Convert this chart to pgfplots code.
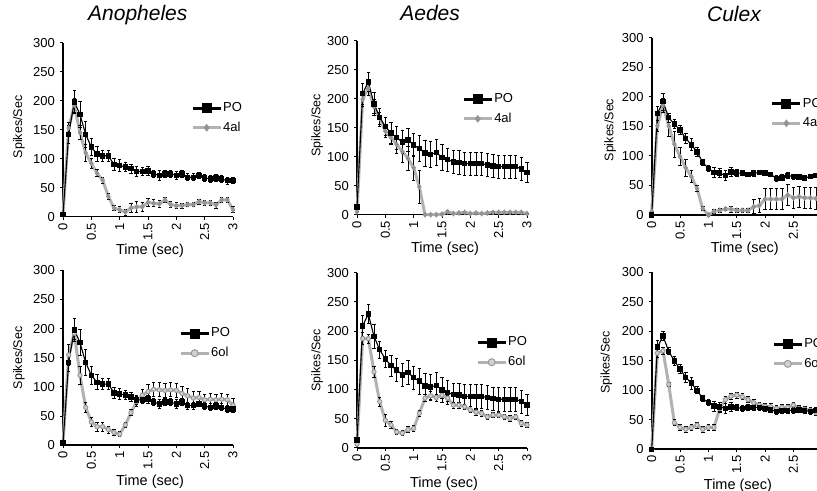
\documentclass[border=0pt]{standalone}
\usepackage{fontspec}
\setmainfont{Liberation Sans}
\usepackage{pgfplots}
\usepackage{pgfplotstable}
\pgfplotsset{compat=1.18}

\pgfplotstableread{
x y e
0 4 0
0.1 142 15
0.2 198 20
0.3 176 22
0.4 142 22
0.5 120 15
0.6 108 13
0.7 105 10
0.8 105 10
0.9 90 10
1.0 88 10
1.1 86 8
1.2 83 8
1.3 78 8
1.4 78 7
1.5 79 7
1.6 74 6
1.7 71 8
1.8 74 6
1.9 74 6
2.0 71 7
2.1 74 6
2.2 68 6
2.3 68 6
2.4 71 5
2.5 67 6
2.6 65 6
2.7 67 6
2.8 65 6
2.9 62 6
3.0 62 5
}\anoPO

\pgfplotstableread{
x y e
0 3 0
0.1 153 10
0.2 192 12
0.3 145 12
0.4 110 14
0.5 92 8
0.6 75 6
0.7 63 5
0.8 35 5
0.9 15 5
1.0 12 5
1.1 8 5
1.2 15 8
1.3 17 10
1.4 17 8
1.5 25 7
1.6 23 6
1.7 22 6
1.8 29 4
1.9 21 5
2.0 19 5
2.1 19 4
2.2 21 4
2.3 21 4
2.4 26 4
2.5 24 4
2.6 24 4
2.7 20 5
2.8 29 4
2.9 29 4
3.0 12 5
}\anoAL

\pgfplotstableread{
x y e
0 3 0
0.1 155 18
0.2 192 10
0.3 120 15
0.4 65 8
0.5 40 8
0.6 32 8
0.7 32 8
0.8 27 6
0.9 22 5
1.0 19 4
1.1 35 5
1.2 56 5
1.3 75 8
1.4 86 10
1.5 92 12
1.6 96 12
1.7 95 12
1.8 94 12
1.9 95 12
2.0 94 12
2.1 89 12
2.2 85 12
2.3 81 12
2.4 82 10
2.5 78 10
2.6 79 10
2.7 78 10
2.8 79 10
2.9 78 10
3.0 69 12
}\anoOL

\pgfplotstableread{
x y e
0 13 0
0.1 209 18
0.2 229 16
0.3 191 20
0.4 168 15
0.5 152 15
0.6 141 18
0.7 133 20
0.8 125 20
0.9 129 20
1.0 120 20
1.1 114 22
1.2 106 22
1.3 104 22
1.4 107 22
1.5 99 22
1.6 95 20
1.7 91 20
1.8 90 20
1.9 88 20
2.0 88 20
2.1 88 20
2.2 88 20
2.3 86 20
2.4 84 20
2.5 83 20
2.6 83 20
2.7 83 20
2.8 83 20
2.9 79 20
3.0 73 18
}\aedPO

\pgfplotstableread{
x y e
0 5 0
0.1 199 12
0.2 218 12
0.3 186 12
0.4 166 10
0.5 144 10
0.6 133 12
0.7 121 15
0.8 109 18
0.9 97 20
1.0 81 22
1.1 48 28
1.2 0 0
1.3 0 0
1.4 0 0
1.5 1 1
1.6 5 3
1.7 2 1
1.8 3 1
1.9 4 1
2.0 2 1
2.1 3 1
2.2 2 1
2.3 3 1
2.4 4 1
2.5 4 1
2.6 4 1
2.7 4 1
2.8 4 1
2.9 4 1
3.0 2 1
}\aedAL

\pgfplotstableread{
x y e
0 6 0
0.1 187 10
0.2 187 8
0.3 130 10
0.4 79 8
0.5 47 10
0.6 39 6
0.7 27 5
0.8 25 4
0.9 31 5
1.0 33 5
1.1 59 5
1.2 85 6
1.3 89 8
1.4 86 6
1.5 90 6
1.6 85 5
1.7 73 5
1.8 73 5
1.9 70 5
2.0 65 5
2.1 61 5
2.2 59 5
2.3 53 4
2.4 56 4
2.5 56 4
2.6 53 4
2.7 50 5
2.8 53 4
2.9 42 5
3.0 39 5
}\aedOL

\pgfplotstableread{
x y e
0 0 0
0.1 172 12
0.2 192 14
0.3 165 8
0.4 154 8
0.5 144 8
0.6 130 8
0.7 119 10
0.8 107 8
0.9 89 5
1.0 79 5
1.1 72 8
1.2 71 8
1.3 67 8
1.4 73 8
1.5 71 6
1.6 71 4
1.7 69 4
1.8 71 5
1.9 72 4
2.0 71 4
2.1 69 4
2.2 62 5
2.3 63 5
2.4 67 5
2.5 65 4
2.6 64 4
2.7 63 3
2.8 65 3
2.9 67 3
3.0 66 3
}\culPOa

\pgfplotstableread{
x y e
0 6 0
0.1 151 10
0.2 186 12
0.3 151 18
0.4 120 22
0.5 99 15
0.6 80 15
0.7 65 10
0.8 45 5
0.9 11 4
1.0 0 2
1.1 6 3
1.2 8 3
1.3 10 3
1.4 10 5
1.5 8 4
1.6 8 3
1.7 8 3
1.8 14 12
1.9 16 12
2.0 27 18
2.1 27 18
2.2 27 18
2.3 27 18
2.4 34 18
2.5 29 18
2.6 31 18
2.7 29 18
2.8 29 18
2.9 28 18
3.0 28 18
}\culAL

\pgfplotstableread{
x y e
0 0 0
0.1 173 12
0.2 192 8
0.3 166 6
0.4 150 8
0.5 136 8
0.6 122 8
0.7 112 10
0.8 100 6
0.9 86 5
1.0 79 5
1.1 73 8
1.2 72 8
1.3 69 8
1.4 72 8
1.5 71 5
1.6 69 5
1.7 71 5
1.8 71 5
1.9 71 5
2.0 69 5
2.1 67 5
2.2 64 5
2.3 66 5
2.4 66 5
2.5 66 5
2.6 67 5
2.7 66 5
2.8 64 5
2.9 66 5
3.0 66 5
}\culPOb

\pgfplotstableread{
x y e
0 0 0
0.1 163 8
0.2 167 6
0.3 110 4
0.4 45 5
0.5 37 5
0.6 34 5
0.7 37 5
0.8 41 5
0.9 34 5
1.0 37 5
1.1 37 5
1.2 69 6
1.3 84 6
1.4 90 5
1.5 92 5
1.6 89 5
1.7 84 5
1.8 79 5
1.9 75 5
2.0 73 5
2.1 72 5
2.2 69 5
2.3 71 5
2.4 71 5
2.5 75 5
2.6 69 5
2.7 68 5
2.8 66 5
2.9 62 5
3.0 60 5
}\culOL

\pgfplotsset{
  panel/.style={
    scale only axis, width=170bp,
    xmin=0, xmax=3, ymin=0, ymax=300, clip=false,
    axis x line*=bottom, axis y line*=left,
    axis line style={-, line width=1.6bp, black},
    xtick={0,0.5,1,1.5,2,2.5,3},
    xticklabels={0,0.5,1,1.5,2,2.5,3},
    ytick={0,50,100,150,200,250,300},
    tick align=outside, major tick length=3bp,
    tick style={line width=1bp, black},
    /pgf/number format/assume math mode=true,
    xticklabel style={rotate=90, anchor=east, font=\fontsize{13bp}{15bp}\selectfont, inner sep=3bp},
    yticklabel style={font=\fontsize{13bp}{15bp}\selectfont, inner sep=3bp, xshift=-2bp},
    xlabel={Time (sec)}, ylabel={Spikes/Sec},
    xlabel style={font=\fontsize{14.5bp}{16bp}\selectfont},
    ylabel style={font=\fontsize{12.5bp}{14bp}\selectfont},
    title style={font=\fontsize{21bp}{23bp}\selectfont\itshape, anchor=base},
    legend style={draw=none, fill=none, font=\fontsize{13bp}{15bp}\selectfont,
      legend cell align=left, inner sep=0pt, anchor=west,
      nodes={inner sep=1bp, text height=9bp, text depth=2.5bp}, row sep=6bp},
    reverse legend,
    legend image code/.code={\draw[mark repeat=2,mark phase=2,##1] plot coordinates {(0bp,0bp)(14bp,0bp)(28bp,0bp)};},
    legend image post style={line width=3bp, mark size=3.5bp},
  },
  ebar/.style={error bars/.cd, y dir=both, y explicit,
    error bar style={black, line width=0.8bp},
    error mark options={black, rotate=90, mark size=1.8bp, line width=0.8bp}},
  po/.style={black, line width=1.1bp, mark=square*, mark size=2.2bp,
    mark options={solid, fill=black}, ebar},
  al/.style={color=black!30, line width=3bp, mark=diamond*, mark size=2.6bp,
    mark options={solid, fill=black!42, draw=black!42, line width=0.5bp}, ebar},
  ol/.style={color=black!30, line width=3bp, mark=*, mark size=2.1bp,
    mark options={solid, fill=black!18, draw=black!40, line width=1bp}, ebar},
}

\begin{document}
\begin{tikzpicture}
\useasboundingbox (0bp,0bp) rectangle (817bp,491bp);

% Anopheles top
\begin{axis}[panel, height=174bp, at={(63bp,274.3bp)}, anchor=south west,
  title={Anopheles}, title style={at={(axis description cs:0.44,1.096)}},
  xlabel style={at={(axis description cs:0.512,0)}, anchor=base, yshift=-38bp},
  ylabel style={at={(axis description cs:-0.259,0.516)}, anchor=center},
  legend style={at={(axis description cs:0.753,0.567)}}]
\addplot[al] table[x=x,y=y,y error=e]{\anoAL};
\addlegendentry{4al}
\addplot[po] table[x=x,y=y,y error=e]{\anoPO};
\addlegendentry{PO}
\end{axis}

% Aedes top
\begin{axis}[panel, height=174bp, at={(357bp,276.3bp)}, anchor=south west,
  title={Aedes}, title style={at={(axis description cs:0.43,1.079)}},
  xlabel style={at={(axis description cs:0.518,0)}, anchor=base, yshift=-38bp},
  ylabel style={at={(axis description cs:-0.235,0.515)}, anchor=center},
  legend style={at={(axis description cs:0.618,0.607)}}]
\addplot[al] table[x=x,y=y,y error=e]{\aedAL};
\addlegendentry{4al}
\addplot[po] table[x=x,y=y,y error=e]{\aedPO};
\addlegendentry{PO}
\end{axis}

% Culex top
\begin{axis}[panel, height=177bp, at={(651.7bp,276bp)}, anchor=south west,
  title={Culex}, title style={at={(axis description cs:0.484,1.06)}},
  xlabel style={at={(axis description cs:0.548,0)}, anchor=base, yshift=-38bp},
  ylabel style={at={(axis description cs:-0.245,0.48)}, anchor=center},
  legend style={at={(axis description cs:0.70,0.573)}}]
\addplot[al] table[x=x,y=y,y error=e]{\culAL};
\addlegendentry{4al}
\addplot[po] table[x=x,y=y,y error=e]{\culPOa};
\addlegendentry{PO}
\end{axis}

% Anopheles bottom
\begin{axis}[panel, height=175bp, at={(63bp,45.7bp)}, anchor=south west,
  xlabel style={at={(axis description cs:0.512,0)}, anchor=base, yshift=-40bp},
  ylabel style={at={(axis description cs:-0.259,0.5)}, anchor=center},
  legend style={at={(axis description cs:0.682,0.582)}}]
\addplot[ol] table[x=x,y=y,y error=e]{\anoOL};
\addlegendentry{6ol}
\addplot[po] table[x=x,y=y,y error=e]{\anoPO};
\addlegendentry{PO}
\end{axis}

% Aedes bottom
\begin{axis}[panel, height=175bp, at={(357bp,43.3bp)}, anchor=south west,
  xlabel style={at={(axis description cs:0.512,0)}, anchor=base, yshift=-40bp},
  ylabel style={at={(axis description cs:-0.235,0.5)}, anchor=center},
  legend style={at={(axis description cs:0.70,0.544)}}]
\addplot[ol] table[x=x,y=y,y error=e]{\aedOL};
\addlegendentry{6ol}
\addplot[po] table[x=x,y=y,y error=e]{\aedPO};
\addlegendentry{PO}
\end{axis}

% Culex bottom
\begin{axis}[panel, height=177bp, at={(651.7bp,41.7bp)}, anchor=south west,
  xlabel style={at={(axis description cs:0.507,0)}, anchor=base, yshift=-40bp},
  ylabel style={at={(axis description cs:-0.266,0.49)}, anchor=center},
  legend style={at={(axis description cs:0.708,0.538)}}]
\addplot[ol] table[x=x,y=y,y error=e]{\culOL};
\addlegendentry{6ol}
\addplot[po] table[x=x,y=y,y error=e]{\culPOb};
\addlegendentry{PO}
\end{axis}
\end{tikzpicture}
\end{document}
